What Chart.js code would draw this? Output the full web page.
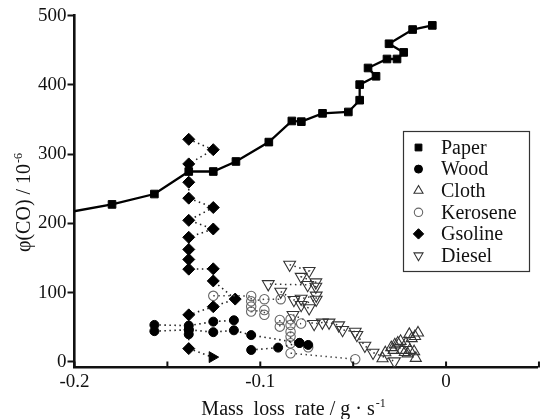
<!DOCTYPE html>
<html><head><meta charset="utf-8">
<script src="https://cdn.jsdelivr.net/npm/chart.js@4.4.1/dist/chart.umd.min.js"></script>
<style>html,body{margin:0;padding:0;background:#fff}canvas{display:block}</style>
</head><body>
<canvas id="c" width="545" height="419"></canvas>
<script>
// ---- data ----
const seriesNames = ['Paper', 'Wood', 'Cloth', 'Kerosene', 'Gsoline', 'Diesel'];

const paperX = [-0.21, -0.1798, -0.157, -0.1385, -0.1253, -0.1131, -0.0954, -0.083, -0.0779, -0.0665, -0.0526, -0.0465, -0.0465, -0.0377, -0.042, -0.0318, -0.0264, -0.0228, -0.0307, -0.018, -0.0074];
const paperY = [213, 227.5, 242.5, 275, 275, 289.5, 317.5, 348, 347, 359, 361, 378, 400.5, 412.5, 424.5, 437.5, 437.5, 447, 459.5, 480, 486];

const woodX = [-0.157, -0.1385, -0.1253, -0.1142, null, -0.157, -0.1385, -0.1385, -0.1385, -0.1253, -0.1142, -0.1049, -0.0789, -0.0742, null, -0.1049, -0.0904, -0.0789];
const woodY = [53.5, 52.5, 58.2, 60.2, null, 44.5, 46.5, 40, 46.5, 43, 45.7, 38.8, 27.5, 24.6, null, 17.3, 20.7, 27.5];

const clothX = [-0.0342, -0.0327, -0.0295, -0.0282, -0.0276, -0.026, -0.0245, -0.0238, -0.0222, -0.0216, -0.0207, -0.0195, -0.0198, -0.0185, -0.0172, -0.0167, -0.0151, -0.0163];
const clothY = [5, 13.5, 21, 17, 25, 27.5, 30, 17, 14, 27, 12, 17, 40, 34, 15, 37, 42, 5.5];

const keroseneX = [-0.1253, -0.1049, -0.1049, -0.0978, -0.089, null, -0.1049, -0.1049, -0.0978, -0.0978, null, -0.0895, -0.0895, -0.0837, -0.0837, -0.078, null, -0.0837, -0.0837, -0.0837, -0.0742, null, -0.0837, -0.0489];
const keroseneY = [95.5, 95.4, 87.5, 90.6, 90.6, null, 80, 72.7, 75, 68, null, 60.7, 51, 61.7, 53.5, 55.5, null, 43.8, 36.6, 27, 21.2, null, 12.6, 4];

const gasolineX = [-0.1385, -0.1253, -0.1385, -0.1385, -0.1385, -0.1253, -0.1385, -0.1253, -0.1385, -0.1385, -0.1385, -0.1385, -0.1253, -0.1253, -0.1135, -0.1253, -0.1385, -0.1385, -0.1258];
const gasolineY = [321.5, 306.5, 286, 259.5, 236.5, 223, 204.5, 192, 180, 162.5, 148, 134, 134.5, 117, 90.8, 79.8, 68, 19.3, 7];

const dieselX = [-0.0842, -0.0737, -0.078, -0.0701, -0.0701, -0.0745, -0.0957, null, -0.089, -0.0819, -0.078, -0.0699, -0.0699, -0.078, -0.0737, null, -0.0824, -0.071, -0.0666, -0.063, -0.0578, -0.0557, -0.0489, -0.048, -0.0437, -0.0393, -0.0278];
const dieselY = [140.5, 131.5, 123, 115, 108.8, 111.3, 112.5, null, 101.6, 89.6, 91.5, 96, 90, 82.4, 77.6, null, 67.9, 55, 57, 57, 53, 46.2, 43.8, 39, 23.5, 13.5, 1];

const xTickValues = [-0.2, -0.15, -0.1, -0.05, 0];
const xTickLabels = ['-0.2', '', '-0.1', '', '0'];
const yTickValues = [0, 100, 200, 300, 400, 500];
const yTickLabels = ['0', '100', '200', '300', '400', '500'];
const xTitleText = 'Mass  loss  rate / g · s';
const xTitleSup = '-1';
const yTitleText = 'φ(CO) / 10';
const yTitleSup = '-6';

// ---- helpers ----
const SERIF = "'Liberation Serif', 'Times New Roman', 'DejaVu Serif', serif";
function pts(xs, ys) { return xs.map((x, i) => (x === null ? {x: null, y: null} : {x: x, y: ys[i]})); }

const gasStyles = gasolineX.map((_, i) => i === gasolineX.length - 1 ? 'triangle' : 'rectRot');
const gasRot = gasolineX.map((_, i) => i === gasolineX.length - 1 ? 90 : 0);
const gasRad = gasolineX.map((_, i) => i === gasolineX.length - 1 ? 6.3 : 6);

const dotted = [1.5, 3.5];
const datasets = [
  {label: seriesNames[0], data: pts(paperX, paperY), showLine: true, borderColor: '#000', borderWidth: 2.3,
   pointStyle: 'rect', pointRadius: 5.4, pointBackgroundColor: '#000', pointBorderColor: '#000', pointBorderWidth: 1,
   clip: {left: 0, top: 20, right: 20, bottom: 20}, legendRadius: 4.8},
  {label: seriesNames[1], data: pts(woodX, woodY), showLine: true, borderColor: '#222', borderWidth: 1.6, borderDash: dotted,
   pointStyle: 'circle', pointRadius: 4.5, pointBackgroundColor: '#000', pointBorderColor: '#000', pointBorderWidth: 1, legendRadius: 4},
  {label: seriesNames[2], data: pts(clothX, clothY), showLine: false,
   pointStyle: 'triangle', pointRadius: 6.4, pointBackgroundColor: 'rgba(0,0,0,0)', pointBorderColor: '#333', pointBorderWidth: 1.1, legendRadius: 5.2},
  {label: seriesNames[3], data: pts(keroseneX, keroseneY), showLine: true, borderColor: '#444', borderWidth: 1.5, borderDash: dotted,
   pointStyle: 'circle', pointRadius: 4.7, pointBackgroundColor: 'rgba(0,0,0,0)', pointBorderColor: '#666', pointBorderWidth: 1.1, legendRadius: 4.2},
  {label: seriesNames[4], data: pts(gasolineX, gasolineY), showLine: true, borderColor: '#222', borderWidth: 1.6, borderDash: dotted,
   pointStyle: gasStyles, pointRotation: gasRot, pointRadius: gasRad, pointBackgroundColor: '#000', pointBorderColor: '#000', pointBorderWidth: 1,
   legendStyle: 'rectRot', legendRadius: 5.2},
  {label: seriesNames[5], data: pts(dieselX, dieselY), showLine: true, borderColor: '#333', borderWidth: 1.5, borderDash: dotted,
   pointStyle: 'triangle', pointRotation: 180, pointRadius: 6.8, pointBackgroundColor: 'rgba(0,0,0,0)', pointBorderColor: '#333', pointBorderWidth: 1.1,
   legendRadius: 5.2}
];

// ---- plugins ----
const innerTicks = {
  id: 'innerTicks',
  afterDraw(chart) {
    const {ctx, chartArea, scales: {x}} = chart;
    ctx.save();
    ctx.strokeStyle = '#111';
    ctx.lineWidth = 2;
    xTickValues.concat([0.05]).forEach(v => {
      const px = x.getPixelForValue(v);
      ctx.beginPath();
      ctx.moveTo(px, chartArea.bottom);
      ctx.lineTo(px, chartArea.bottom - 6);
      ctx.stroke();
    });
    ctx.restore();
  }
};

function drawSupText(ctx, main, sup, size, cx, cy) {
  ctx.font = size + 'px ' + SERIF;
  const w1 = ctx.measureText(main).width;
  ctx.font = Math.round(size * 0.62) + 'px ' + SERIF;
  const w2 = ctx.measureText(sup).width;
  const start = cx - (w1 + w2) / 2;
  ctx.textAlign = 'left';
  ctx.textBaseline = 'alphabetic';
  ctx.font = size + 'px ' + SERIF;
  ctx.fillText(main, start, cy);
  ctx.font = Math.round(size * 0.62) + 'px ' + SERIF;
  ctx.fillText(sup, start + w1 + 1, cy - size * 0.42);
}

const axisTitles = {
  id: 'axisTitles',
  afterDraw(chart) {
    const ctx = chart.ctx;
    ctx.save();
    ctx.fillStyle = '#111';
    drawSupText(ctx, xTitleText, xTitleSup, 20, 293, 415);
    ctx.translate(30, 203);
    ctx.rotate(-Math.PI / 2);
    drawSupText(ctx, yTitleText, yTitleSup, 20, 0, 0);
    ctx.restore();
  }
};

const boxLegend = {
  id: 'boxLegend',
  afterDraw(chart) {
    const ctx = chart.ctx;
    const L = 403, T = 131, R = 529, B = 271;
    ctx.save();
    ctx.strokeStyle = '#333';
    ctx.lineWidth = 1.2;
    ctx.strokeRect(L + 0.5, T + 0.5, R - L, B - T);
    chart.data.datasets.forEach((ds, i) => {
      const cy = T + 16.5 + i * 21.6;
      ctx.fillStyle = ds.pointBackgroundColor;
      ctx.strokeStyle = ds.pointBorderColor;
      ctx.lineWidth = ds.pointBorderWidth;
      ctx.setLineDash([]);
      Chart.helpers.drawPoint(ctx, {
        pointStyle: ds.legendStyle || ds.pointStyle,
        rotation: typeof ds.pointRotation === 'number' ? ds.pointRotation : 0,
        radius: ds.legendRadius,
        borderWidth: ds.pointBorderWidth
      }, 418.5, cy);
      ctx.fillStyle = '#111';
      ctx.font = '20px ' + SERIF;
      ctx.textAlign = 'left';
      ctx.textBaseline = 'middle';
      ctx.fillText(ds.label, 441, cy + 1);
    });
    ctx.restore();
  }
};

new Chart(document.getElementById('c'), {
  type: 'scatter',
  data: {datasets: datasets},
  options: {
    responsive: false,
    animation: false,
    events: [],
    layout: {padding: {top: 15.7, right: 0, left: 0, bottom: 0}},
    plugins: {legend: {display: false}, tooltip: {enabled: false}},
    scales: {
      x: {
        type: 'linear', min: -0.2, max: 0.049,
        afterBuildTicks: s => { s.ticks = xTickValues.map(v => ({value: v})); },
        afterFit: s => { s.height = 51.5; },
        ticks: {
          callback: (v) => { const i = xTickValues.findIndex(t => Math.abs(t - v) < 1e-9); return i >= 0 ? xTickLabels[i] : ''; },
          font: {family: SERIF, size: 19}, color: '#111', padding: 3, maxRotation: 0, autoSkip: false
        },
        grid: {display: false, drawTicks: false},
        border: {display: true, color: '#111', width: 2.6}
      },
      y: {
        type: 'linear', min: -8, max: 500,
        afterBuildTicks: s => { s.ticks = yTickValues.map(v => ({value: v})); },
        afterFit: s => { s.width = 74.5; },
        ticks: {
          callback: (v) => { const i = yTickValues.indexOf(v); return i >= 0 ? yTickLabels[i] : ''; },
          font: {family: SERIF, size: 19}, color: '#111', padding: 1, autoSkip: false
        },
        grid: {display: true, drawOnChartArea: false, drawTicks: true, tickLength: 7, tickWidth: 2, tickColor: '#111'},
        border: {display: true, color: '#111', width: 2.6}
      }
    }
  },
  plugins: [innerTicks, axisTitles, boxLegend]
});
</script>
</body></html>
